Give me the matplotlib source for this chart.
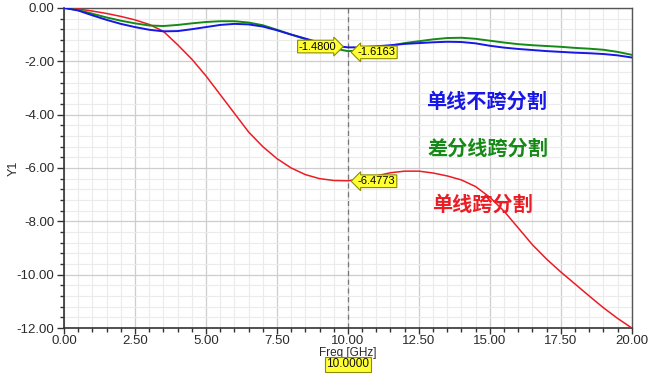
import matplotlib.pyplot as plt
from matplotlib.ticker import MultipleLocator, FormatStrFormatter

# Frequency sweep (GHz) and S-parameter traces
freq = [0.0, 0.5, 1.0, 1.5, 2.0, 2.5, 3.0, 3.5, 4.0, 4.5, 5.0, 5.5, 6.0, 6.5,
        7.0, 7.5, 8.0, 8.5, 9.0, 9.5, 10.0, 10.5, 11.0, 11.5, 12.0, 12.5,
        13.0, 13.5, 14.0, 14.5, 15.0, 15.5, 16.0, 16.5, 17.0, 17.5, 18.0,
        18.5, 19.0, 19.5, 20.0]
single_no_split = [0.0, -0.10, -0.28, -0.45, -0.60, -0.72, -0.82, -0.88, -0.87,
                   -0.80, -0.72, -0.64, -0.60, -0.62, -0.70, -0.84, -1.00, -1.15,
                   -1.30, -1.42, -1.48, -1.48, -1.44, -1.40, -1.35, -1.32, -1.29,
                   -1.27, -1.28, -1.33, -1.42, -1.49, -1.54, -1.58, -1.62, -1.65,
                   -1.68, -1.70, -1.73, -1.78, -1.86]
diff_split = [0.0, -0.08, -0.22, -0.36, -0.48, -0.58, -0.66, -0.68, -0.64,
              -0.58, -0.53, -0.50, -0.50, -0.55, -0.65, -0.82, -1.00, -1.17,
              -1.35, -1.52, -1.62, -1.60, -1.52, -1.42, -1.32, -1.25, -1.18,
              -1.13, -1.12, -1.16, -1.23, -1.30, -1.36, -1.40, -1.43, -1.46,
              -1.50, -1.53, -1.57, -1.65, -1.76]
single_split = [0.0, -0.04, -0.12, -0.21, -0.32, -0.45, -0.62, -0.88, -1.38,
                -1.92, -2.55, -3.25, -3.95, -4.65, -5.20, -5.65, -6.00, -6.25,
                -6.40, -6.47, -6.48, -6.42, -6.30, -6.18, -6.12, -6.12, -6.19,
                -6.30, -6.45, -6.70, -7.10, -7.62, -8.25, -8.88, -9.42, -9.90,
                -10.35, -10.80, -11.24, -11.64, -12.00]

marker_x = 10.0
marker_vals = {"blue": -1.4800, "green": -1.6163, "red": -6.4773}

c_blue = "#1717e6"
c_green = "#168a16"
c_red = "#ec1c24"
cjk = ["Noto Sans CJK SC", "DejaVu Sans"]
plt.rcParams["font.family"] = ["Liberation Sans", "DejaVu Sans"]

fig = plt.figure(figsize=(6.5, 3.75), dpi=100)
ax = fig.add_axes([0.0985, 0.1253, 0.8735, 0.8537])

ax.plot(freq, single_split, color=c_red, lw=1.1, zorder=3)
ax.plot(freq, diff_split, color=c_green, lw=1.4, zorder=3)
ax.plot(freq, single_no_split, color=c_blue, lw=1.4, zorder=4)

ax.set_xlim(0, 20)
ax.set_ylim(-12, 0)
ax.xaxis.set_major_locator(MultipleLocator(2.5))
ax.xaxis.set_minor_locator(MultipleLocator(0.5))
ax.yaxis.set_major_locator(MultipleLocator(2))
ax.yaxis.set_minor_locator(MultipleLocator(0.4))
ax.xaxis.set_major_formatter(FormatStrFormatter("%.2f"))
ax.yaxis.set_major_formatter(FormatStrFormatter("%.2f"))
ax.grid(which="minor", color="#ebebeb", lw=0.8)
ax.grid(which="major", color="#cdcdcd", lw=0.9)
ax.set_axisbelow(True)
ax.tick_params(which="major", length=5, width=1, color="#333333",
               labelsize=9.5, labelcolor="#2a2a2a", pad=2)
ax.tick_params(axis="x", which="major", length=4, pad=1)
ax.tick_params(which="minor", length=3, width=1, color="#333333")
ax.tick_params(axis="x", which="both", top=False)
ax.tick_params(axis="y", which="both", right=False)
for s in ["left", "bottom"]:
    ax.spines[s].set_color("#333333")
    ax.spines[s].set_linewidth(1.2)
for s in ["top", "right"]:
    ax.spines[s].set_color("#555555")
    ax.spines[s].set_linewidth(1.0)

# marker line at 10 GHz
ax.axvline(marker_x, color="#777777", lw=0.9, ls=(0, (4, 3)), zorder=2)

box = dict(facecolor="#ffff33", edgecolor="#8c8c00", lw=0.8)
ax.text(marker_x - 0.4, marker_vals["blue"] + 0.03, "-%.4f" % abs(marker_vals["blue"]),
        ha="right", va="center", fontsize=8, zorder=6,
        bbox=dict(boxstyle="rarrow,pad=0.12", **box))
ax.text(marker_x + 0.35, marker_vals["green"] - 0.05, "-%.4f" % abs(marker_vals["green"]),
        ha="left", va="center", fontsize=8, zorder=6,
        bbox=dict(boxstyle="larrow,pad=0.12", **box))
ax.text(marker_x + 0.35, marker_vals["red"] - 0.02, "-%.4f" % abs(marker_vals["red"]),
        ha="left", va="center", fontsize=8, zorder=6,
        bbox=dict(boxstyle="larrow,pad=0.12", **box))

ax.set_ylabel("Y1", fontsize=9, color="#2a2a2a")
ax.yaxis.set_label_coords(-0.078, 0.5)
ax.set_xlabel("Freq [GHz]", fontsize=8.5, color="#2a2a2a")
ax.xaxis.set_label_coords(0.5, -0.058)
ax.text(marker_x, -13.36, "%.4f" % marker_x, ha="center", va="center",
        fontsize=8.5, color="#111111", clip_on=False,
        bbox=dict(boxstyle="square,pad=0.12", facecolor="#ffff33",
                  edgecolor="#8c8c00", lw=0.8))

ax.text(12.75, -3.5, "单线不跨分割", color=c_blue, fontsize=14.5,
        family=cjk, weight="bold", va="center", ha="left")
ax.text(12.8, -5.25, "差分线跨分割", color=c_green, fontsize=14.5,
        family=cjk, weight="bold", va="center", ha="left")
ax.text(12.95, -7.35, "单线跨分割", color=c_red, fontsize=14.5,
        family=cjk, weight="bold", va="center", ha="left")

fig.savefig("out.png", dpi=100)
